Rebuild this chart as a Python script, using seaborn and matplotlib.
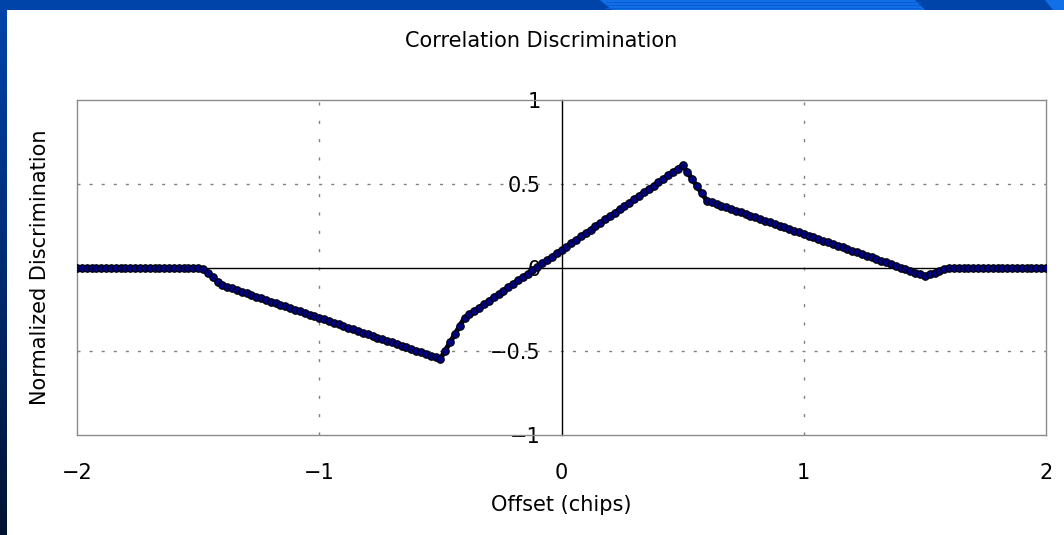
import numpy as np
import matplotlib
matplotlib.use("Agg")
import matplotlib.pyplot as plt
from matplotlib.colors import LinearSegmentedColormap
from matplotlib.patches import Polygon, Rectangle
import seaborn as sns

# ---------------- data ----------------
x_offset = [
    -2.00, -1.98, -1.96, -1.94, -1.92, -1.90, -1.88, -1.86, -1.84, -1.82,
    -1.80, -1.78, -1.76, -1.74, -1.72, -1.70, -1.68, -1.66, -1.64, -1.62,
    -1.60, -1.58, -1.56, -1.54, -1.52, -1.50, -1.48, -1.46, -1.44, -1.42,
    -1.40, -1.38, -1.36, -1.34, -1.32, -1.30, -1.28, -1.26, -1.24, -1.22,
    -1.20, -1.18, -1.16, -1.14, -1.12, -1.10, -1.08, -1.06, -1.04, -1.02,
    -1.00, -0.98, -0.96, -0.94, -0.92, -0.90, -0.88, -0.86, -0.84, -0.82,
    -0.80, -0.78, -0.76, -0.74, -0.72, -0.70, -0.68, -0.66, -0.64, -0.62,
    -0.60, -0.58, -0.56, -0.54, -0.52, -0.50, -0.48, -0.46, -0.44, -0.42,
    -0.40, -0.38, -0.36, -0.34, -0.32, -0.30, -0.28, -0.26, -0.24, -0.22,
    -0.20, -0.18, -0.16, -0.14, -0.12, -0.10, -0.08, -0.06, -0.04, -0.02,
    0.00, 0.02, 0.04, 0.06, 0.08, 0.10, 0.12, 0.14, 0.16, 0.18,
    0.20, 0.22, 0.24, 0.26, 0.28, 0.30, 0.32, 0.34, 0.36, 0.38,
    0.40, 0.42, 0.44, 0.46, 0.48, 0.50, 0.52, 0.54, 0.56, 0.58,
    0.60, 0.62, 0.64, 0.66, 0.68, 0.70, 0.72, 0.74, 0.76, 0.78,
    0.80, 0.82, 0.84, 0.86, 0.88, 0.90, 0.92, 0.94, 0.96, 0.98,
    1.00, 1.02, 1.04, 1.06, 1.08, 1.10, 1.12, 1.14, 1.16, 1.18,
    1.20, 1.22, 1.24, 1.26, 1.28, 1.30, 1.32, 1.34, 1.36, 1.38,
    1.40, 1.42, 1.44, 1.46, 1.48, 1.50, 1.52, 1.54, 1.56, 1.58,
    1.60, 1.62, 1.64, 1.66, 1.68, 1.70, 1.72, 1.74, 1.76, 1.78,
    1.80, 1.82, 1.84, 1.86, 1.88, 1.90, 1.92, 1.94, 1.96, 1.98,
    2.00,
]

discrimination = [
    0.000, 0.000, 0.000, 0.000, 0.000, 0.000, 0.000, 0.000, 0.000, 0.000,
    0.000, 0.000, 0.000, 0.000, 0.000, 0.000, 0.000, 0.000, 0.000, 0.000,
    0.000, 0.000, 0.000, 0.000, 0.000, 0.000, -0.010, -0.030, -0.058, -0.085,
    -0.105, -0.115, -0.125, -0.134, -0.144, -0.154, -0.164, -0.174, -0.183, -0.193,
    -0.203, -0.213, -0.222, -0.232, -0.242, -0.252, -0.262, -0.271, -0.281, -0.291,
    -0.301, -0.310, -0.320, -0.330, -0.340, -0.350, -0.359, -0.369, -0.379, -0.389,
    -0.398, -0.408, -0.418, -0.428, -0.438, -0.447, -0.457, -0.467, -0.477, -0.486,
    -0.496, -0.506, -0.516, -0.526, -0.535, -0.545, -0.496, -0.447, -0.398, -0.349,
    -0.300, -0.280, -0.260, -0.239, -0.219, -0.199, -0.179, -0.158, -0.138, -0.118,
    -0.098, -0.077, -0.057, -0.037, -0.017, 0.004, 0.024, 0.044, 0.064, 0.085,
    0.105, 0.125, 0.145, 0.166, 0.186, 0.206, 0.226, 0.246, 0.267, 0.287,
    0.307, 0.327, 0.348, 0.368, 0.388, 0.408, 0.429, 0.449, 0.469, 0.489,
    0.510, 0.530, 0.550, 0.570, 0.590, 0.610, 0.568, 0.526, 0.484, 0.442,
    0.400, 0.390, 0.380, 0.370, 0.360, 0.350, 0.340, 0.330, 0.320, 0.310,
    0.300, 0.290, 0.280, 0.270, 0.260, 0.250, 0.240, 0.230, 0.220, 0.210,
    0.200, 0.190, 0.180, 0.170, 0.160, 0.150, 0.140, 0.130, 0.120, 0.110,
    0.100, 0.090, 0.080, 0.070, 0.060, 0.050, 0.040, 0.030, 0.020, 0.010,
    0.000, -0.010, -0.020, -0.030, -0.040, -0.050, -0.040, -0.030, -0.020, -0.010,
    0.000, 0.000, 0.000, 0.000, 0.000, 0.000, 0.000, 0.000, 0.000, 0.000,
    0.000, 0.000, 0.000, 0.000, 0.000, 0.000, 0.000, 0.000, 0.000, 0.000,
    0.000,
]

x_ticks = [-2, -1, 0, 1, 2]
x_tick_labels = ["\u22122", "\u22121", "0", "1", "2"]
y_ticks = [-1, -0.5, 0, 0.5, 1]
y_tick_labels = ["\u22121", "\u22120.5", "0", "0.5", "1"]
grid_x = [-1, 1]
grid_y = [-0.5, 0.5]

title = "Correlation Discrimination"
x_label = "Offset (chips)"
y_label = "Normalized Discrimination"

# ---------------- style ----------------
sns.set_style("white")
plt.rcParams["font.family"] = ["DejaVu Sans"]
plt.rcParams["text.color"] = "black"
plt.rcParams["axes.labelcolor"] = "black"
plt.rcParams["xtick.color"] = "black"
plt.rcParams["ytick.color"] = "black"
FS = 15

W, H = 1064, 535
fig = plt.figure(figsize=(W / 100, H / 100), dpi=100)
fig.patch.set_facecolor("white")

# slide decoration: top band and left gradient strip
top = fig.add_axes([0, 1 - 10 / H, 1, 10 / H])
top.set_xlim(0, W)
top.set_ylim(0, 10)
top.add_patch(Rectangle((0, 0), W, 10, color="#0044AA", lw=0))
top.add_patch(Polygon([[600, 10], [915, 10], [925, 0], [612, 0]],
                      closed=True, color="#1170E8", lw=0))
for yy in (2.5, 5.5, 8.0):
    top.plot([606, 920], [yy, yy], color="#0A5CD0", lw=0.8)
top.add_patch(Polygon([[1045, 10], [W, 10], [W, 0], [1053, 0]],
                      closed=True, color="#1170E8", lw=0))
top.axis("off")

left = fig.add_axes([0, 0, 7 / W, 1 - 10 / H])
cmap = LinearSegmentedColormap.from_list("band", ["#001230", "#002A70", "#0044AA"])
left.imshow(np.linspace(1, 0, 256).reshape(-1, 1), cmap=cmap, aspect="auto",
            extent=[0, 1, 0, 1], vmin=0, vmax=1)
left.axis("off")

# ---------------- main axes ----------------
ax = fig.add_axes([77 / W, 1 - 435 / H, 969 / W, 335 / H])
ax.set_facecolor("white")

grid_kw = dict(color="#808080", lw=1.0, zorder=1)
for gx in grid_x:
    ax.axvline(gx, dashes=(2.2, 11), **grid_kw)
for gy in grid_y:
    ax.axhline(gy, dashes=(2.2, 6.5), **grid_kw)
ax.axhline(0, color="black", lw=1.0, zorder=2)

sns.lineplot(x=x_offset, y=discrimination, ax=ax, sort=False, color="#000028",
             lw=3.6, marker="o", markersize=5.4, markerfacecolor="#000080",
             markeredgecolor="#000000", markeredgewidth=0.8, zorder=5)

ax.set_xlim(-2, 2)
ax.set_ylim(-1, 1)

# frame
for side in ("top", "right", "bottom"):
    ax.spines[side].set_visible(True)
    ax.spines[side].set_color("#8C8C8C")
    ax.spines[side].set_linewidth(1.0)
ax.plot([0, 0], [0, 1], transform=ax.transAxes, color="#8C8C8C", lw=1.0,
        clip_on=False, zorder=3)
ax.spines["left"].set_visible(True)
ax.spines["left"].set_position(("data", 0))
ax.spines["left"].set_color("black")
ax.spines["left"].set_linewidth(1.0)

ax.set_xticks(x_ticks)
ax.set_xticklabels(x_tick_labels, fontsize=FS)
ax.set_yticks(y_ticks)
ax.set_yticklabels(y_tick_labels, fontsize=FS)
ax.tick_params(axis="x", direction="in", length=3, color="#8C8C8C",
               labelcolor="black", pad=20)
ax.tick_params(axis="y", direction="in", length=5, color="black",
               labelcolor="black", pad=15)

ax.set_xlabel(x_label, fontsize=FS, color="black")
ax.xaxis.label.set_va("center")
ax.xaxis.set_label_coords((561 - 77) / 969, (435 - 505) / 335)
ax.set_ylabel(y_label, fontsize=FS, color="black")
ax.yaxis.label.set_va("center")
ax.yaxis.set_label_coords((40 - 77) / 969, 0.5)

fig.text(541 / W, 1 - 41 / H, title, fontsize=FS, color="black",
         ha="center", va="center")

fig.savefig("out.png", dpi=100, facecolor="white")
